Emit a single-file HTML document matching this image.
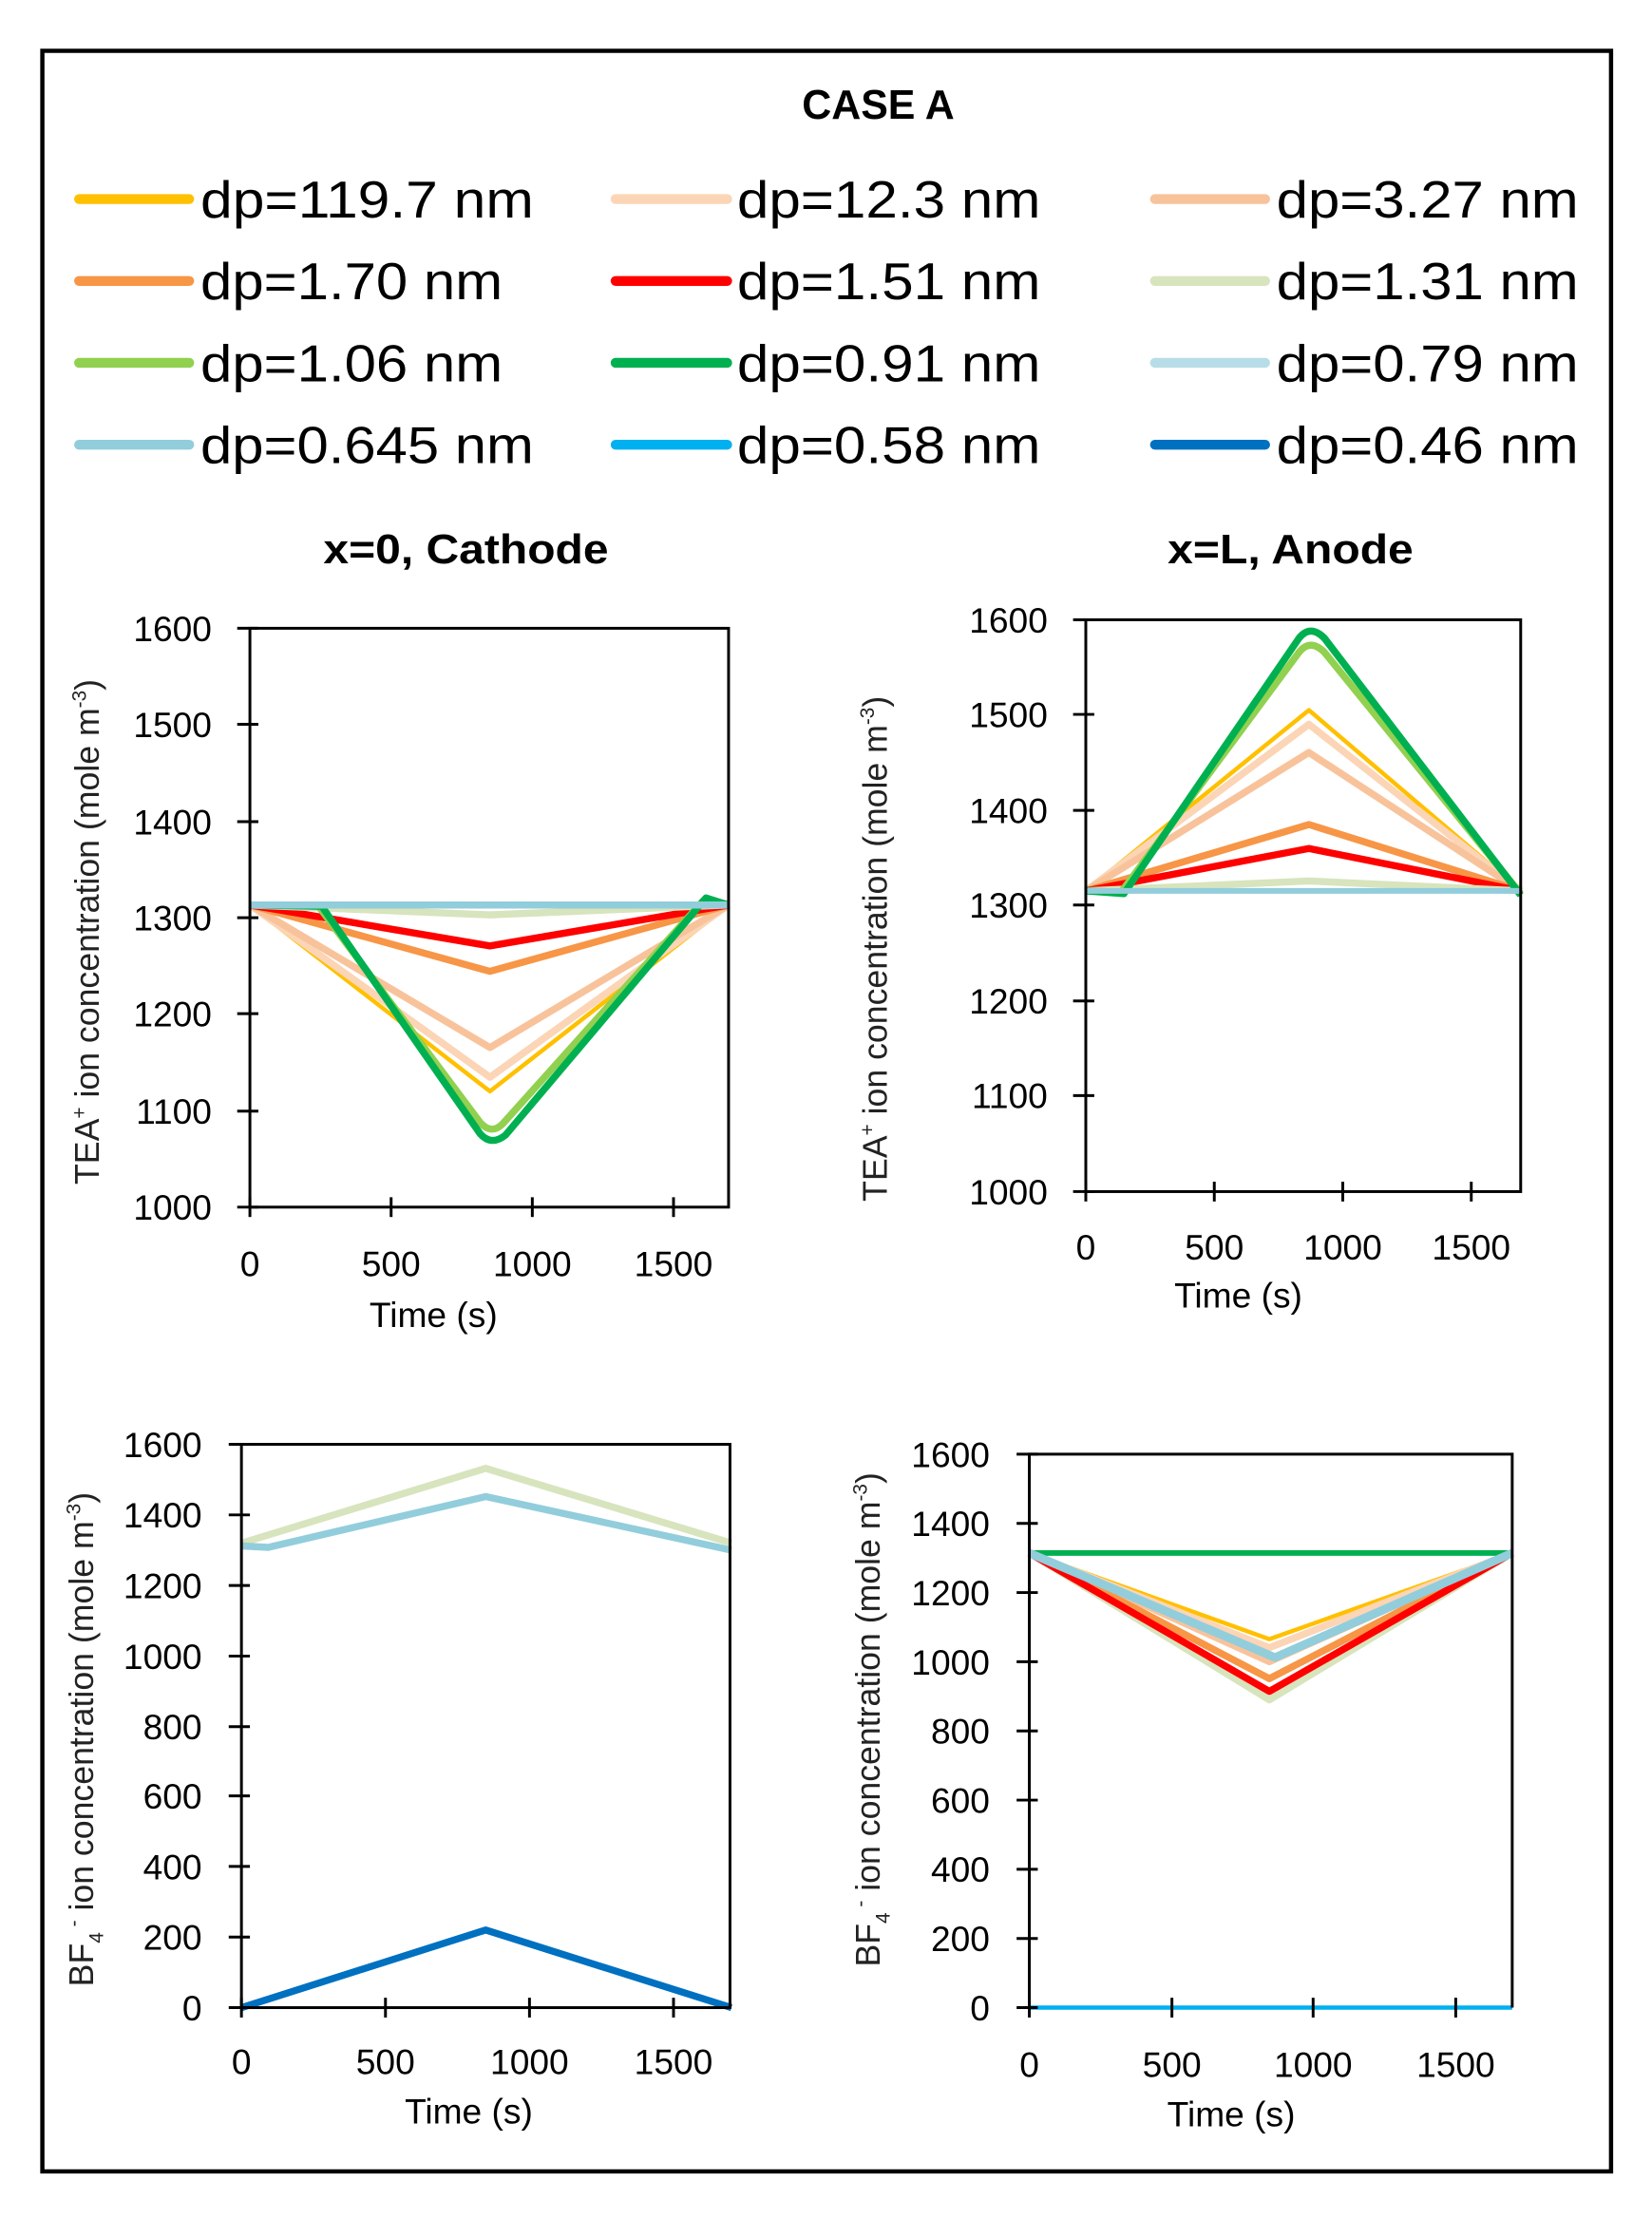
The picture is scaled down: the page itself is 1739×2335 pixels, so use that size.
<!DOCTYPE html>
<html><head><meta charset="utf-8"><style>
html,body{margin:0;padding:0;background:#fff;}
svg{display:block;}
text{font-family:"Liberation Sans",sans-serif;fill:#000;}
.t{font-size:25px;fill:#222;}
.yl{font-size:24px;fill:#222;}
.b{font-weight:bold;}
.lg{font-size:37px;fill:#111;}
</style></head><body>
<svg width="1739" height="2335" viewBox="0 0 1170 1571" preserveAspectRatio="none" xmlns="http://www.w3.org/2000/svg">
<rect x="0" y="0" width="1170" height="1571" fill="#fff"/>
<rect x="30" y="36" width="1111" height="1502" fill="none" stroke="#000" stroke-width="3"/>
<text x="622" y="84" text-anchor="middle" class="b" font-size="29" textLength="108" lengthAdjust="spacingAndGlyphs">CASE A</text>
<g stroke-width="7" stroke-linecap="round">
<line x1="56" y1="141" x2="134" y2="141" stroke="#FFC000"/>
<line x1="436" y1="141" x2="515" y2="141" stroke="#FBD5B5"/>
<line x1="818" y1="141" x2="896" y2="141" stroke="#F8C39B"/>
<line x1="56" y1="199" x2="134" y2="199" stroke="#F79646"/>
<line x1="436" y1="199" x2="515" y2="199" stroke="#FF0000"/>
<line x1="818" y1="199" x2="896" y2="199" stroke="#D7E4BD"/>
<line x1="56" y1="257" x2="134" y2="257" stroke="#92D050"/>
<line x1="436" y1="257" x2="515" y2="257" stroke="#00B050"/>
<line x1="818" y1="257" x2="896" y2="257" stroke="#B7DEE8"/>
<line x1="56" y1="315" x2="134" y2="315" stroke="#92CDDC"/>
<line x1="436" y1="315" x2="515" y2="315" stroke="#00B0F0"/>
<line x1="818" y1="315" x2="896" y2="315" stroke="#0070C0"/>
</g>
<g class="lg">
<text x="142" y="154" textLength="236" lengthAdjust="spacingAndGlyphs">dp=119.7 nm</text>
<text x="522" y="154" textLength="215" lengthAdjust="spacingAndGlyphs">dp=12.3 nm</text>
<text x="904" y="154" textLength="214" lengthAdjust="spacingAndGlyphs">dp=3.27 nm</text>
<text x="142" y="212" textLength="214" lengthAdjust="spacingAndGlyphs">dp=1.70 nm</text>
<text x="522" y="212" textLength="215" lengthAdjust="spacingAndGlyphs">dp=1.51 nm</text>
<text x="904" y="212" textLength="214" lengthAdjust="spacingAndGlyphs">dp=1.31 nm</text>
<text x="142" y="270" textLength="214" lengthAdjust="spacingAndGlyphs">dp=1.06 nm</text>
<text x="522" y="270" textLength="215" lengthAdjust="spacingAndGlyphs">dp=0.91 nm</text>
<text x="904" y="270" textLength="214" lengthAdjust="spacingAndGlyphs">dp=0.79 nm</text>
<text x="142" y="328" textLength="236" lengthAdjust="spacingAndGlyphs">dp=0.645 nm</text>
<text x="522" y="328" textLength="215" lengthAdjust="spacingAndGlyphs">dp=0.58 nm</text>
<text x="904" y="328" textLength="214" lengthAdjust="spacingAndGlyphs">dp=0.46 nm</text>
</g>
<text x="330" y="399" text-anchor="middle" class="b" font-size="29" textLength="202" lengthAdjust="spacingAndGlyphs">x=0, Cathode</text>
<text x="914" y="399" text-anchor="middle" class="b" font-size="29" textLength="174" lengthAdjust="spacingAndGlyphs">x=L, Anode</text>

<!-- Chart 1 -->
<g fill="none" stroke-linejoin="round">
<polyline points="177,641 347,773 516,641" stroke="#FFC000" stroke-width="3"/>
<polyline points="177,641 347,763 516,641" stroke="#FBD5B5" stroke-width="5"/>
<polyline points="177,641 347,742 516,641" stroke="#F8C39B" stroke-width="5"/>
<polyline points="177,641 347,688 516,641" stroke="#F79646" stroke-width="5"/>
<polyline points="177,641 347,670 516,641" stroke="#FF0000" stroke-width="5"/>
<polyline points="177,641 347,648 516,641" stroke="#D7E4BD" stroke-width="5"/>
<path d="M177,641 L225,641 L340,795 Q348,804 356,796 L498,638 L516,641" stroke="#92D050" stroke-width="5"/>
<path d="M177,641 L228,642 L340,803 Q348,812 358,804 L500,636 L516,641" stroke="#00B050" stroke-width="5"/>
<polyline points="177,641 516,641" stroke="#92CDDC" stroke-width="5"/>
</g>
<g stroke="#000" stroke-width="2" fill="none">
<rect x="177" y="445" width="339" height="410"/>
<line x1="168" y1="445" x2="183" y2="445"/><line x1="168" y1="513" x2="183" y2="513"/><line x1="168" y1="582" x2="183" y2="582"/><line x1="168" y1="650" x2="183" y2="650"/><line x1="168" y1="718" x2="183" y2="718"/><line x1="168" y1="787" x2="183" y2="787"/><line x1="168" y1="855" x2="183" y2="855"/>
<line x1="177" y1="848" x2="177" y2="862"/><line x1="277" y1="848" x2="277" y2="862"/><line x1="377" y1="848" x2="377" y2="862"/><line x1="477" y1="848" x2="477" y2="862"/>
</g>
<g class="t" text-anchor="end">
<text x="150" y="454">1600</text><text x="150" y="522">1500</text><text x="150" y="591">1400</text><text x="150" y="659">1300</text><text x="150" y="727">1200</text><text x="150" y="796">1100</text><text x="150" y="864">1000</text>
</g>
<g class="t" text-anchor="middle">
<text x="177" y="904">0</text><text x="277" y="904">500</text><text x="377" y="904">1000</text><text x="477" y="904">1500</text>
<text x="307" y="940">Time (s)</text>
</g>
<text class="yl" transform="translate(70,660) rotate(-90)" text-anchor="middle">TEA<tspan font-size="14" dy="-9">+</tspan><tspan dy="9"> ion concentration (mole m</tspan><tspan font-size="14" dy="-9">-3</tspan><tspan dy="9">)</tspan></text>

<!-- Chart 2 -->
<g fill="none" stroke-linejoin="round">
<polyline points="769,631 927,503 1077,631" stroke="#FFC000" stroke-width="3"/>
<polyline points="769,631 927,513 1077,631" stroke="#FBD5B5" stroke-width="5"/>
<polyline points="769,631 927,533 1077,631" stroke="#F8C39B" stroke-width="5"/>
<polyline points="769,631 927,584 1077,631" stroke="#F79646" stroke-width="5"/>
<polyline points="769,631 927,601 1077,631" stroke="#FF0000" stroke-width="5"/>
<polyline points="769,631 927,624 1077,631" stroke="#D7E4BD" stroke-width="5"/>
<path d="M769,631 L794,632 L920,462 Q928,452 938,462 L1077,633" stroke="#92D050" stroke-width="5"/>
<path d="M769,631 L796,633 L920,452 Q928,442 938,452 L1077,634" stroke="#00B050" stroke-width="5"/>
<polyline points="769,631 1077,631" stroke="#92CDDC" stroke-width="4"/>
</g>
<g stroke="#000" stroke-width="2" fill="none">
<rect x="769" y="439" width="308" height="405"/>
<line x1="760" y1="439" x2="775" y2="439"/><line x1="760" y1="506" x2="775" y2="506"/><line x1="760" y1="574" x2="775" y2="574"/><line x1="760" y1="641" x2="775" y2="641"/><line x1="760" y1="709" x2="775" y2="709"/><line x1="760" y1="776" x2="775" y2="776"/><line x1="760" y1="844" x2="775" y2="844"/>
<line x1="769" y1="837" x2="769" y2="851"/><line x1="860" y1="837" x2="860" y2="851"/><line x1="951" y1="837" x2="951" y2="851"/><line x1="1042" y1="837" x2="1042" y2="851"/>
</g>
<g class="t" text-anchor="end">
<text x="742" y="448">1600</text><text x="742" y="515">1500</text><text x="742" y="583">1400</text><text x="742" y="650">1300</text><text x="742" y="718">1200</text><text x="742" y="785">1100</text><text x="742" y="853">1000</text>
</g>
<g class="t" text-anchor="middle">
<text x="769" y="892">0</text><text x="860" y="892">500</text><text x="951" y="892">1000</text><text x="1042" y="892">1500</text>
<text x="877" y="926">Time (s)</text>
</g>
<text class="yl" transform="translate(628,672) rotate(-90)" text-anchor="middle">TEA<tspan font-size="14" dy="-9">+</tspan><tspan dy="9"> ion concentration (mole m</tspan><tspan font-size="14" dy="-9">-3</tspan><tspan dy="9">)</tspan></text>

<!-- Chart 3 -->
<g fill="none" stroke-linejoin="round">
<polyline points="171,1093 344,1040 518,1093" stroke="#D7E4BD" stroke-width="5"/>
<path d="M171,1095 L190,1096 L344,1060 L518,1098" stroke="#92CDDC" stroke-width="5"/>
<polyline points="171,1422 344,1367 518,1422" stroke="#0070C0" stroke-width="5"/>
</g>
<g stroke="#000" stroke-width="2" fill="none">
<rect x="171" y="1023" width="346" height="399"/>
<line x1="162" y1="1023" x2="177" y2="1023"/><line x1="162" y1="1073" x2="177" y2="1073"/><line x1="162" y1="1123" x2="177" y2="1123"/><line x1="162" y1="1173" x2="177" y2="1173"/><line x1="162" y1="1223" x2="177" y2="1223"/><line x1="162" y1="1272" x2="177" y2="1272"/><line x1="162" y1="1322" x2="177" y2="1322"/><line x1="162" y1="1372" x2="177" y2="1372"/><line x1="162" y1="1422" x2="177" y2="1422"/>
<line x1="171" y1="1415" x2="171" y2="1429"/><line x1="273" y1="1415" x2="273" y2="1429"/><line x1="375" y1="1415" x2="375" y2="1429"/><line x1="477" y1="1415" x2="477" y2="1429"/>
</g>
<g class="t" text-anchor="end">
<text x="143" y="1032">1600</text><text x="143" y="1082">1400</text><text x="143" y="1132">1200</text><text x="143" y="1182">1000</text><text x="143" y="1232">800</text><text x="143" y="1281">600</text><text x="143" y="1331">400</text><text x="143" y="1381">200</text><text x="143" y="1431">0</text>
</g>
<g class="t" text-anchor="middle">
<text x="171" y="1469">0</text><text x="273" y="1469">500</text><text x="375" y="1469">1000</text><text x="477" y="1469">1500</text>
<text x="332" y="1504">Time (s)</text>
</g>
<text class="yl" transform="translate(66,1232) rotate(-90)" text-anchor="middle">BF<tspan font-size="14" dy="7">4</tspan><tspan font-size="14" dy="-16"> -</tspan><tspan dy="9"> ion concentration (mole m</tspan><tspan font-size="14" dy="-9">-3</tspan><tspan dy="9">)</tspan></text>

<!-- Chart 4 -->
<g fill="none" stroke-linejoin="round">
<polyline points="729,1100 899,1161 1071,1100" stroke="#FFC000" stroke-width="3"/>
<polyline points="729,1100 899,1167 1071,1100" stroke="#FBD5B5" stroke-width="5"/>
<polyline points="729,1100 899,1177 1071,1100" stroke="#F8C39B" stroke-width="5"/>
<polyline points="729,1100 899,1189 1071,1100" stroke="#F79646" stroke-width="5"/>
<polyline points="729,1100 899,1204 1071,1100" stroke="#D7E4BD" stroke-width="5"/>
<polyline points="729,1100 899,1198 1071,1100" stroke="#FF0000" stroke-width="5"/>
<polyline points="729,1100 1071,1100" stroke="#00B050" stroke-width="4"/>
<polyline points="729,1100 903,1174 1071,1100" stroke="#92CDDC" stroke-width="6"/>
<polyline points="729,1422 1071,1422" stroke="#00B0F0" stroke-width="3"/>
</g>
<g stroke="#000" stroke-width="2" fill="none">
<polyline points="729,1422 729,1030 1071,1030 1071,1422"/>
<line x1="720" y1="1030" x2="735" y2="1030"/><line x1="720" y1="1079" x2="735" y2="1079"/><line x1="720" y1="1128" x2="735" y2="1128"/><line x1="720" y1="1177" x2="735" y2="1177"/><line x1="720" y1="1226" x2="735" y2="1226"/><line x1="720" y1="1275" x2="735" y2="1275"/><line x1="720" y1="1324" x2="735" y2="1324"/><line x1="720" y1="1373" x2="735" y2="1373"/><line x1="720" y1="1422" x2="735" y2="1422"/>
<line x1="729" y1="1415" x2="729" y2="1429"/><line x1="830" y1="1415" x2="830" y2="1429"/><line x1="930" y1="1415" x2="930" y2="1429"/><line x1="1031" y1="1415" x2="1031" y2="1429"/>
</g>
<g class="t" text-anchor="end">
<text x="701" y="1039">1600</text><text x="701" y="1088">1400</text><text x="701" y="1137">1200</text><text x="701" y="1186">1000</text><text x="701" y="1235">800</text><text x="701" y="1284">600</text><text x="701" y="1333">400</text><text x="701" y="1382">200</text><text x="701" y="1431">0</text>
</g>
<g class="t" text-anchor="middle">
<text x="729" y="1471">0</text><text x="830" y="1471">500</text><text x="930" y="1471">1000</text><text x="1031" y="1471">1500</text>
<text x="872" y="1506">Time (s)</text>
</g>
<text class="yl" transform="translate(623,1218) rotate(-90)" text-anchor="middle">BF<tspan font-size="14" dy="7">4</tspan><tspan font-size="14" dy="-16"> -</tspan><tspan dy="9"> ion concentration (mole m</tspan><tspan font-size="14" dy="-9">-3</tspan><tspan dy="9">)</tspan></text>
</svg>
</body></html>
